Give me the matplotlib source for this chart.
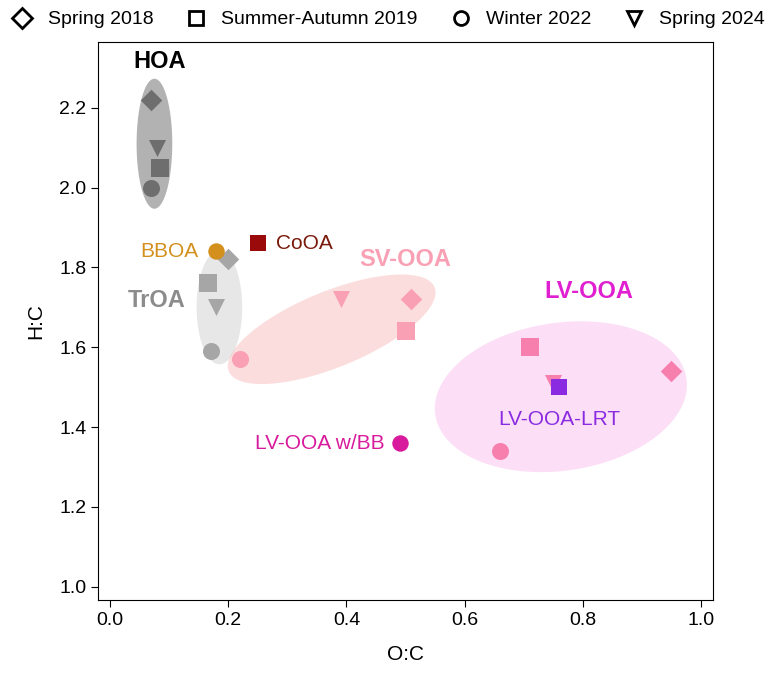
import numpy as np
import matplotlib
matplotlib.use("Agg")
import matplotlib.pyplot as plt
from matplotlib.lines import Line2D

plt.rcParams["font.family"] = ["Liberation Sans", "DejaVu Sans"]

# factor points: (O:C, H:C) per campaign marker
markers = {"Spring 2018": "D", "Summer-Autumn 2019": "s", "Winter 2022": "o", "Spring 2024": "v"}
hoa_oc = [0.07, 0.085, 0.07, 0.08]
hoa_hc = [2.22, 2.05, 2.00, 2.10]
troa_oc = [0.20, 0.165, 0.17, 0.18]
troa_hc = [1.82, 1.76, 1.59, 1.70]
svooa_oc = [0.51, 0.50, 0.22, 0.39]
svooa_hc = [1.72, 1.64, 1.57, 1.72]
lvooa_oc = [0.95, 0.71, 0.66, 0.75]
lvooa_hc = [1.54, 1.60, 1.34, 1.51]
single = {
    "BBOA": (0.18, 1.84, "o", "#d4901c"),
    "CoOA": (0.25, 1.86, "s", "#9b0a0a"),
    "LV-OOA-LRT": (0.76, 1.50, "s", "#8a2be2"),
    "LV-OOA w/BB": (0.49, 1.36, "o", "#d81b9c"),
}

X0, X1, Y0, Y1 = -0.02, 1.02, 0.967, 2.365
fig = plt.figure(figsize=(7.68, 6.77), dpi=100)
ax = fig.add_axes([0.128, 0.114, 0.80, 0.824])
ax.set_xlim(X0, X1)
ax.set_ylim(Y0, Y1)

sx, sy = 596.0, 399.0  # px per data unit


def ellipse(cx, cy, a_px, b_px, ang, color, alpha):
    t = np.linspace(0, 2 * np.pi, 200)
    th = np.deg2rad(ang)
    px = a_px * np.cos(t) * np.cos(th) - b_px * np.sin(t) * np.sin(th)
    py = a_px * np.cos(t) * np.sin(th) + b_px * np.sin(t) * np.cos(th)
    ax.fill(cx + px / sx, cy + py / sy, color=color, alpha=alpha, lw=0, zorder=1)


ellipse(0.075, 2.11, 18, 65, 0, "#555555", 0.45)
ellipse(0.185, 1.70, 23, 57, 0, "#bbbbbb", 0.35)
ellipse(0.375, 1.645, 112, 38, 22, "#f9a0a0", 0.35)
ellipse(0.763, 1.476, 128, 74, 8, "#f7a6e6", 0.35)

groups = [(hoa_oc, hoa_hc, "#6e6e6e"), (troa_oc, troa_hc, "#a6a6a6"),
          (svooa_oc, svooa_hc, "#f9a0b4"), (lvooa_oc, lvooa_hc, "#f77fae")]
for oc, hc, col in groups:
    for x, y, m in zip(oc, hc, markers.values()):
        ax.scatter(x, y, marker=m, s=150 if m != "D" else 120, color=col, zorder=3, lw=0)
for name, (x, y, m, col) in single.items():
    ax.scatter(x, y, marker=m, s=140, color=col, zorder=4, lw=0)

fs = 15
ax.text(0.04, 2.30, "HOA", fontsize=17, weight="bold", color="black")
ax.text(0.03, 1.70, "TrOA", fontsize=17, weight="bold", color="#8c8c8c")
ax.text(0.50, 1.82, "SV-OOA", fontsize=17, weight="bold", color="#f9a0b4", ha="center", va="center")
ax.text(0.735, 1.74, "LV-OOA", fontsize=17, weight="bold", color="#e020d0", va="center")
ax.text(0.15, 1.84, "BBOA", fontsize=fs, color="#d4901c", ha="right", va="center")
ax.text(0.28, 1.86, "CoOA", fontsize=fs, color="#7a1a0a", ha="left", va="center")
ax.text(0.76, 1.42, "LV-OOA-LRT", fontsize=fs, color="#8a2be2", ha="center", va="center")
ax.text(0.465, 1.36, "LV-OOA w/BB", fontsize=fs, color="#d81b9c", ha="right", va="center")

ax.set_xticks(np.arange(0, 1.01, 0.2))
ax.set_yticks(np.arange(1.0, 2.21, 0.2))
ax.xaxis.set_major_formatter(matplotlib.ticker.FormatStrFormatter("%.1f"))
ax.yaxis.set_major_formatter(matplotlib.ticker.FormatStrFormatter("%.1f"))
ax.tick_params(labelsize=14, length=5)
ax.set_xlabel("O:C", fontsize=15, labelpad=12)
ax.set_ylabel("H:C", fontsize=15, labelpad=10)

handles = [Line2D([], [], marker=m, ls="", mfc="white", mec="black", mew=2, ms=10, label=k)
           for k, m in markers.items()]
fig.legend(handles=handles, loc="upper center", bbox_to_anchor=(0.5, 1.01), ncol=4,
           frameon=False, fontsize=14, handletextpad=0.3, columnspacing=1.2)

fig.savefig("out.png", dpi=100)
